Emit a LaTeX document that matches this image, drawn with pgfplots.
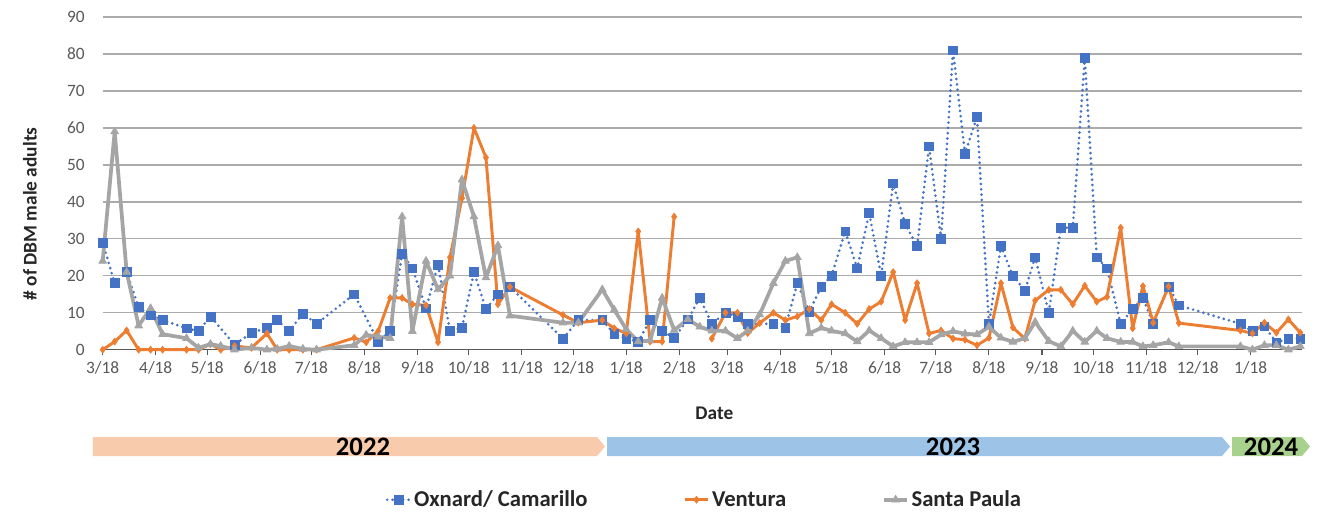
\documentclass[border=0pt]{standalone}
\usepackage{pgfplots}
\pgfplotsset{compat=1.18}
\usepackage{fontspec}
\setmainfont{Carlito}
\definecolor{oxblue}{HTML}{4472C4}
\definecolor{venor}{HTML}{ED7D31}
\definecolor{spgray}{HTML}{A5A5A5}
\definecolor{tickgray}{HTML}{595959}
\definecolor{labgray}{HTML}{262626}
\definecolor{gridgray}{HTML}{ABABAB}
\definecolor{y22}{HTML}{F8CBAD}
\definecolor{y23}{HTML}{9DC3E6}
\definecolor{y24}{HTML}{A9D18E}
\begin{document}
\begin{tikzpicture}
\useasboundingbox (-77.025pt,-120.975pt) rectangle (912.975pt,262.275pt);
\begin{axis}[
  scale only axis, width=899.5pt, height=249.5pt,
  xmin=0, xmax=701, ymin=0, ymax=90,
  axis x line*=bottom, axis y line*=left,
  y axis line style={draw=none},
  x axis line style={draw=tickgray, line width=1pt},
  xtick={0,31,61,92,122,153,184,214,245,275,306,337,365,396,426,457,487,518,549,579,610,640,671},
  xticklabels={3/18,4/18,5/18,6/18,7/18,8/18,9/18,10/18,11/18,12/18,1/18,2/18,3/18,4/18,5/18,6/18,7/18,8/18,9/18,10/18,11/18,12/18,1/18},
  ytick={0,10,...,90},
  ymajorgrids, grid style={gridgray, line width=1pt},
  tick align=outside, major tick length=4pt,
  xtick style={draw=tickgray, line width=0.8pt},
  ytick style={draw=none},
  tick label style={font=\fontsize{13}{15}\selectfont, text=tickgray},
  xticklabel style={yshift=-1pt},
  yticklabel style={xshift=-6pt},
  /pgf/number format/assume math mode=true,
  xlabel={Date}, ylabel={\# of DBM male adults},
  label style={font=\bfseries\fontsize{14.5}{17}\selectfont, text=labgray},
  xlabel style={at={(axis description cs:0.51,-0.19)}, anchor=center},
  ylabel style={at={(axis description cs:-0.0606,0.408)}, anchor=center},
  legend style={at={(axis description cs:0.502,-0.451)}, anchor=center, draw=none, fill=none,
    legend columns=3, font=\bfseries\fontsize{17}{20}\selectfont, text=labgray,
    /tikz/every even column/.append style={column sep=70pt}},
  clip=false,
]
\addplot[oxblue, line width=2.2pt, dash pattern=on 0pt off 4pt, line cap=round,
  mark=square*, mark size=3.3pt, mark options={solid, fill=oxblue, draw=oxblue, line width=0.5pt}]
  table {
0 29
7 18
14 21
21 11.5
28 9.3
35 8
49 5.8
56 5
63 9
77 1.4
87 4.5
96 6
102 8
109 5
117 9.8
125 7
147 15
161 2.2
168 5
175 26
181 22
189 11.2
196 23
203 5
210 6
217 21
224 11
231 15
238 17
269 3
278 8
292 8
299 4.3
306 3
313 2.2
320 8
327 5
334 3.2
342 8.2
349 14
356 7
364 10
371 9
377 7
392 7
399 6
406 18
413 10.3
420 17
426 20
434 32
441 22
448 37
455 20
462 45
469 34
476 28
483 55
490 30
497 81
504 53
511 63
518 7
525 28
532 20
539 16
545 25
553 10
560 33
567 33
574 79
581 25
587 22
595 7
602 11
608 14
614 7
623 17
629 12
665 7
672 5
679 6.3
686 2
693 3
700 3
};
\addlegendentry{Oxnard/ Camarillo}
\addplot[venor, line width=2.2pt, line join=round, unbounded coords=jump,
  mark=diamond*, mark size=2.6pt, mark options={solid, fill=venor, draw=venor, line width=0.5pt}]
  table {
0 0
7 2.2
14 5.2
21 0
28 0
35 0
49 0
56 0
63 1.5
69 0
77 1
87 0.5
96 4.4
102 0
109 0
117 0
125 0
147 3.2
154 2
161 5
168 14
175 14
181 12.3
189 12
196 2
203 25
210 41
217 60
224 52
231 12.3
238 17
269 9.4
278 7.3
292 8
299 5.8
306 4.4
313 32
320 2.2
327 2.2
334 36
345 nan
356 3
364 10
371 10
377 4.5
384 7.2
392 10
399 8
406 9
413 11
420 8
426 12.3
434 10
441 7
448 11
455 13
462 21
469 8
476 18
483 4.4
490 5.2
497 3
504 2.7
511 1.2
518 3.2
525 18
532 6
539 3
545 13.3
553 16.2
560 16.2
567 12.3
574 17.3
581 13
587 14.3
595 33
602 5.8
608 17.2
614 7.3
623 17.1
629 7.2
665 5.2
672 4.4
679 7.3
686 4.6
693 8.2
700 4.6
};
\addlegendentry{Ventura}
\addplot[spgray, line width=2.8pt, line join=round,
  mark=triangle*, mark size=3.4pt, mark options={solid, fill=spgray, draw=spgray, line width=0.5pt}]
  table {
0 24
7 59
14 21
21 6.5
28 11.2
35 4.2
49 3.1
56 0.5
63 1.5
69 1
77 0
87 0.5
96 0
102 0.2
109 1
117 0.2
125 0
147 1.2
154 4
161 3.5
168 3.1
175 36
181 5
189 24
196 16.3
203 20
210 46
217 36
224 19.5
231 28.2
238 9.2
269 7.3
278 7.3
292 16.3
299 10.8
306 5.5
313 2.2
320 2.5
327 14
334 5.3
342 8.2
349 6.2
356 5.1
364 5.1
371 3.1
377 5.1
384 9.5
392 18
399 24
406 25
413 4.4
420 5.9
426 5.1
434 4.4
441 2.2
448 5.2
455 3.1
462 0.9
469 2
476 2
483 2
490 4.1
497 5
504 4.3
511 4.1
518 6.2
525 3.2
532 2.1
539 3.1
545 7.5
553 2.3
560 0.9
567 5.1
574 2.1
581 5.1
587 3.1
595 2.1
602 2.1
608 0.9
614 1.2
623 2
629 0.9
665 0.9
672 0
679 1.2
686 1.2
693 0
700 0.9
};
\addlegendentry{Santa Paula}
\end{axis}
\begin{scope}[x=0.75pt, y=-0.75pt, shift={(-77.025pt,262.275pt)}]
  \fill[y22] (93,437) -- (597,437) -- (605,446.5) -- (597,456) -- (93,456) -- cycle;
  \fill[y23] (607,437) -- (1222,437) -- (1230,446.5) -- (1222,456) -- (607,456) -- cycle;
  \fill[y24] (1232,437) -- (1302,437) -- (1310,446.5) -- (1302,456) -- (1232,456) -- cycle;
  \node[font=\bfseries\fontsize{20}{24}\selectfont, text=black] at (363,446.5) {2022};
  \node[font=\bfseries\fontsize{20}{24}\selectfont, text=black] at (953,446.5) {2023};
  \node[font=\bfseries\fontsize{20}{24}\selectfont, text=black] at (1271,446.5) {2024};
\end{scope}
\end{tikzpicture}
\end{document}
